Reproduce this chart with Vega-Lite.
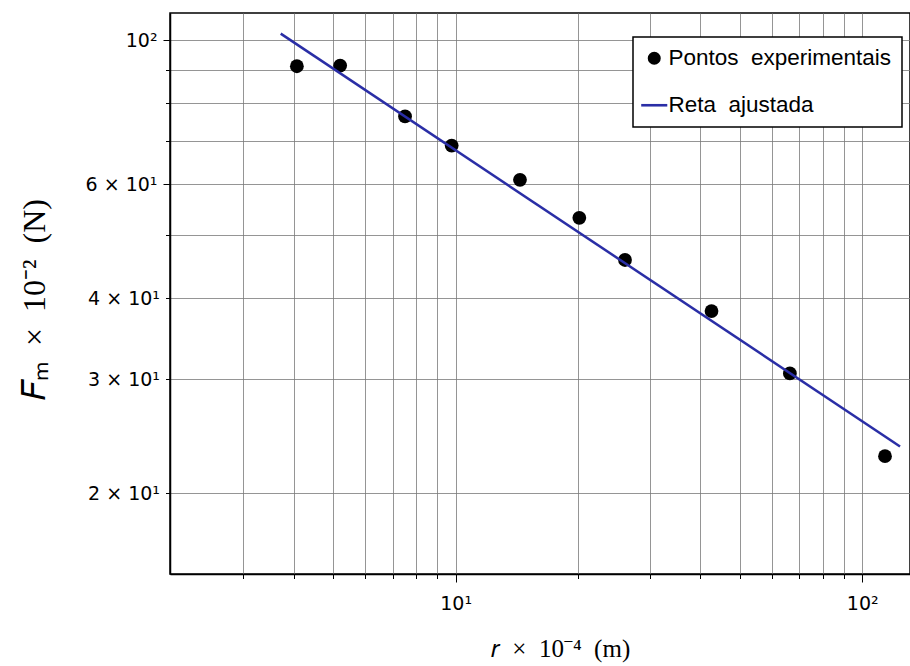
{
  "$schema": "https://vega.github.io/schema/vega-lite/v6.json",
  "width": 740,
  "height": 561,
  "autosize": {"type": "none"},
  "padding": {"left": 170, "top": 13, "right": 0, "bottom": 92},
  "background": "white",
  "config": {
    "view": {"stroke": "black", "strokeWidth": 1.5},
    "axis": {
      "labelFont": "DejaVu Sans",
      "labelFontSize": 19,
      "labelColor": "black",
      "tickColor": "black",
      "tickWidth": 1,
      "domainColor": "black",
      "domainWidth": 1.5,
      "grid": true,
      "gridColor": "#7a7a7a",
      "gridWidth": 0.8,
      "gridOpacity": 1,
      "labelOverlap": false,
      "labelFlush": false,
      "titleFont": "Liberation Serif",
      "titleFontWeight": "normal",
      "titleColor": "black",
      "titleAlign": "center",
      "titleBaseline": "middle"
    },
    "legend": {
      "orient": "none",
      "legendX": 463,
      "legendY": 24,
      "labelFont": "Liberation Sans",
      "labelFontSize": 22.5,
      "labelColor": "black",
      "labelLimit": 400,
      "labelOffset": 3,
      "symbolSize": 170,
      "symbolStrokeWidth": 0,
      "strokeColor": "black",
      "strokeWidth": 1.5,
      "fillColor": "white",
      "padding": 10,
      "rowPadding": 24,
      "cornerRadius": 0
    }
  },
  "encoding": {
    "x": {
      "field": "r",
      "type": "quantitative",
      "scale": {"type": "log", "domain": [1.984, 131.1], "nice": false},
      "title": "𝑟\u2002×\u200210⁻⁴\u2002(m)",
      "axis": {
        "values": [3, 4, 5, 6, 7, 8, 9, 10, 20, 30, 40, 50, 60, 70, 80, 90, 100],
        "labelExpr": "datum.value == 10 ? '10¹' : (datum.value == 100 ? '10²' : '')",
        "tickSize": {"condition": {"test": "datum.value == 10 || datum.value == 100", "value": 8}, "value": 4.5},
        "labelPadding": 12,
        "titleFontSize": 25,
        "titleX": 390,
        "titleY": 74
      }
    },
    "y": {
      "field": "F",
      "type": "quantitative",
      "scale": {"type": "log", "domain": [15.0, 110.2], "nice": false},
      "title": "𝐹ₘ\u2002×\u200210⁻²\u2002(N)",
      "axis": {
        "values": [20, 30, 40, 50, 60, 70, 80, 90, 100],
        "labelExpr": "datum.value == 100 ? '10²' : (datum.value == 20 || datum.value == 30 || datum.value == 40 || datum.value == 60 ? (datum.value / 10) + ' × 10¹' : '')",
        "tickSize": {"condition": {"test": "datum.value == 100 || datum.value == 60", "value": 7}, "value": 4.5},
        "labelPadding": 6,
        "titleFontSize": 32,
        "titleAngle": -90,
        "titleX": -136,
        "titleY": 286
      }
    },
    "color": {
      "field": "serie",
      "type": "nominal",
      "scale": {"domain": ["Pontos\u00a0\u00a0experimentais", "Reta\u00a0\u00a0ajustada"], "range": ["#000000", "#2a2ea6"]},
      "legend": {"title": null}
    }
  },
  "layer": [
    {
      "data": {"values": [
        {"r": 4.07, "F": 91.2, "serie": "Pontos\u00a0\u00a0experimentais"},
        {"r": 5.20, "F": 91.4, "serie": "Pontos\u00a0\u00a0experimentais"},
        {"r": 7.51, "F": 76.3, "serie": "Pontos\u00a0\u00a0experimentais"},
        {"r": 9.78, "F": 68.8, "serie": "Pontos\u00a0\u00a0experimentais"},
        {"r": 14.4, "F": 60.9, "serie": "Pontos\u00a0\u00a0experimentais"},
        {"r": 20.15, "F": 53.2, "serie": "Pontos\u00a0\u00a0experimentais"},
        {"r": 26.1, "F": 45.8, "serie": "Pontos\u00a0\u00a0experimentais"},
        {"r": 42.6, "F": 38.2, "serie": "Pontos\u00a0\u00a0experimentais"},
        {"r": 66.4, "F": 30.6, "serie": "Pontos\u00a0\u00a0experimentais"},
        {"r": 113.8, "F": 22.8, "serie": "Pontos\u00a0\u00a0experimentais"}
      ]},
      "mark": {"type": "point", "filled": true, "size": 190, "opacity": 1},
      "encoding": {
        "shape": {
          "field": "serie",
          "type": "nominal",
          "scale": {"domain": ["Pontos\u00a0\u00a0experimentais", "Reta\u00a0\u00a0ajustada"], "range": ["circle", "M-2.0,-0.2H2.0V0.2H-2.0Z"]},
          "legend": {"title": null}
        }
      }
    },
    {
      "data": {"values": [
        {"r": 3.714, "F": 102.4, "serie": "Reta\u00a0\u00a0ajustada"},
        {"r": 123.9, "F": 23.6, "serie": "Reta\u00a0\u00a0ajustada"}
      ]},
      "mark": {"type": "line", "strokeWidth": 2.5},
      "encoding": {}
    }
  ]
}
